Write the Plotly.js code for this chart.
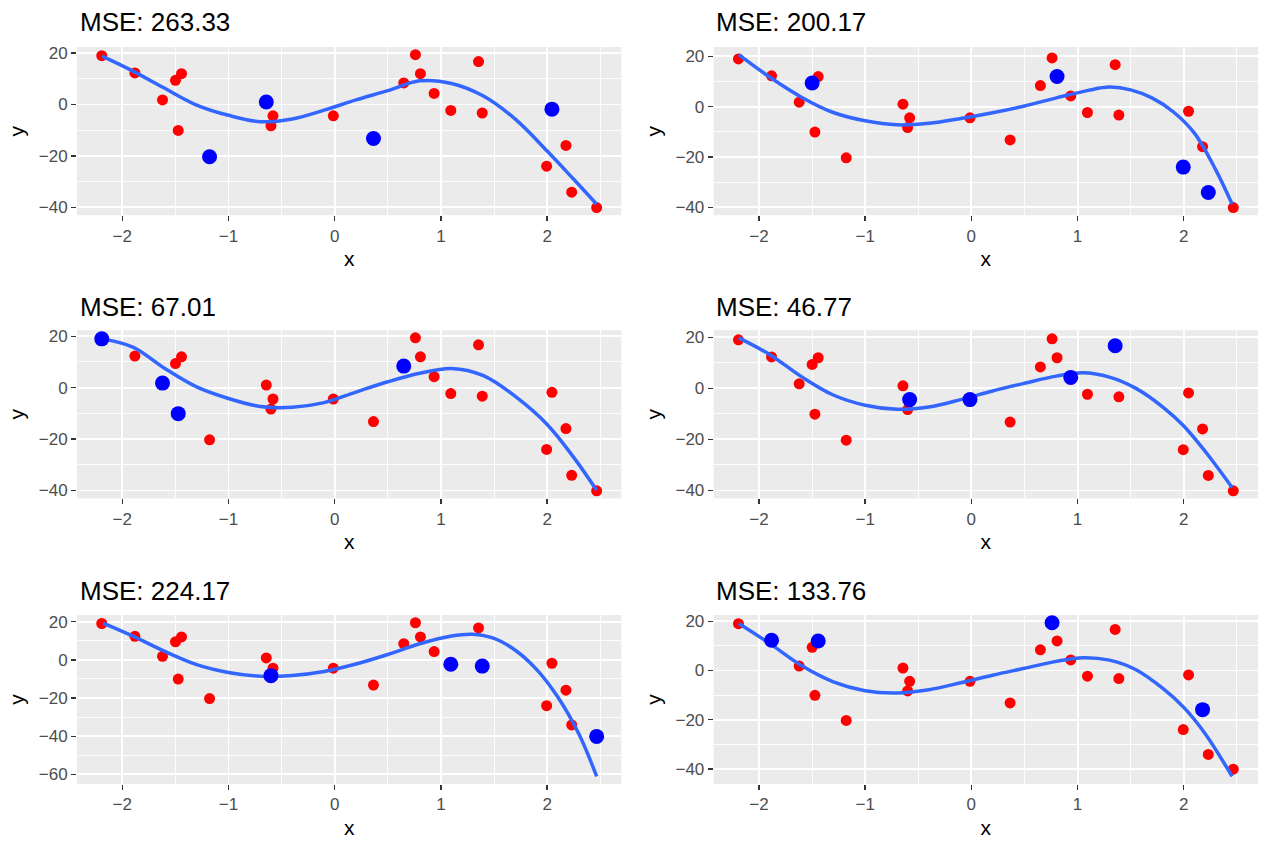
<!DOCTYPE html>
<html>
<head>
<meta charset="utf-8">
<script src="https://cdn.plot.ly/plotly-3.0.1.min.js"></script>
<style>
  html, body { margin: 0; padding: 0; background: #ffffff; }
  #chart { width: 1264px; height: 841px; }
</style>
</head>
<body>
<div id="chart"></div>
<script>
// ---- data ----
const xVals = [-2.193, -1.881, -1.621, -1.499, -1.473, -1.442, -1.178, -0.644, -0.600, -0.581,
               -0.013, 0.365, 0.650, 0.760, 0.807, 0.936, 1.093, 1.354, 1.389, 1.995,
               2.045, 2.177, 2.231, 2.466];
const yVals = [19.0, 12.3, 1.8, 9.4, -10.1, 12.0, -20.3, 1.0, -8.3, -4.4,
               -4.4, -13.2, 8.4, 19.4, 12.0, 4.3, -2.3, 16.7, -3.3, -24.0,
               -1.8, -15.9, -34.1, -40.1];
// panel (1..6) in which each point is a held-out (blue) point
const testFold = [3, 6, 3, 2, 3, 6, 1, 1, 5, 4,
                  4, 1, 3, 6, 2, 4, 5, 4, 5, 2,
                  1, 6, 2, 5];
const panelTitles = ["MSE: 263.33", "MSE: 200.17", "MSE: 67.01", "MSE: 46.77", "MSE: 224.17", "MSE: 133.76"];
const xAxisTitle = "x";
const yAxisTitle = "y";

// fitted curves
const curveX1 = [-2.19, -1.9, -1.6, -1.3, -1.0, -0.7, -0.4, -0.1, 0.2, 0.5, 0.8, 1.1, 1.4, 1.7, 2.0, 2.25, 2.466];
const curveY1 = [18.8, 13.0, 6.3, -0.2, -4.2, -6.7, -5.6, -2.2, 1.8, 5.4, 9.2, 8.2, 3.3, -5.7, -18.1, -29.1, -38.8];
const curveX2 = [-2.19, -1.9, -1.6, -1.3, -1.0, -0.7, -0.4, -0.1, 0.2, 0.5, 0.8, 1.1, 1.3, 1.5, 1.7, 1.9, 2.1, 2.3, 2.455];
const curveY2 = [20.7, 11.8, 3.8, -2.3, -5.6, -7.2, -6.6, -4.7, -2.4, 0.3, 3.5, 6.5, 7.8, 6.7, 3.5, -2.0, -10.5, -25.0, -38.7];
const curveX3 = [-2.18, -1.9, -1.6, -1.3, -1.0, -0.7, -0.4, -0.1, 0.2, 0.5, 0.8, 1.1, 1.4, 1.7, 2.0, 2.25, 2.466];
const curveY3 = [18.9, 15.8, 7.5, 0.3, -4.2, -7.3, -7.6, -5.8, -1.7, 2.3, 5.6, 7.5, 4.7, -3.4, -14.3, -27.1, -39.9];
const curveX4 = [-2.19, -1.9, -1.6, -1.3, -1.0, -0.7, -0.4, -0.1, 0.2, 0.5, 0.8, 1.05, 1.3, 1.55, 1.8, 2.0, 2.21, 2.455];
const curveY4 = [19.8, 13.3, 4.6, -2.6, -6.6, -8.2, -7.3, -4.4, -1.0, 2.0, 4.8, 6.1, 4.4, 0.0, -7.2, -14.7, -25.1, -38.8];
const curveX5 = [-2.18, -1.9, -1.6, -1.3, -1.0, -0.7, -0.4, -0.1, 0.2, 0.5, 0.8, 1.1, 1.3, 1.5, 1.7, 1.9, 2.1, 2.3, 2.466];
const curveY5 = [19.2, 12.4, 4.4, -2.5, -6.6, -8.6, -8.2, -6.1, -2.2, 2.8, 8.4, 12.5, 13.4, 11.2, 5.0, -5.0, -19.5, -39.0, -61.0];
const curveX6 = [-2.19, -1.9, -1.6, -1.3, -1.0, -0.7, -0.4, -0.1, 0.2, 0.5, 0.8, 1.05, 1.3, 1.55, 1.8, 2.0, 2.2, 2.455];
const curveY6 = [19.1, 11.0, 2.0, -4.6, -8.2, -9.1, -7.8, -5.0, -1.9, 0.9, 3.7, 5.2, 4.2, 0.3, -7.2, -15.0, -25.6, -43.0];
const curvesX = [curveX1, curveX2, curveX3, curveX4, curveX5, curveX6];
const curvesY = [curveY1, curveY2, curveY3, curveY4, curveY5, curveY6];

const FONT = "Liberation Sans, Arial, Helvetica, sans-serif";
const W = 1264, H = 841;
const M = { l: 77.3, r: 5.7, t: 46.7, b: 57 };
const PW = W - M.l - M.r, PH = H - M.t - M.b;
const colPx = [[77.3, 621.7], [714, 1258.3]];
const rowPx = [[46.7, 215], [330, 498.3], [615, 784]];
const xd = px => (px - M.l) / PW;
const yd = py => (H - M.b - py) / PH;

const xMin = Math.min(...xVals), xMax = Math.max(...xVals);
const xSpan = xMax - xMin;
const xRange = [xMin - 0.05 * xSpan, xMax + 0.05 * xSpan];

const traces = [];
const layout = {
  width: W, height: H,
  margin: M,
  paper_bgcolor: "#ffffff",
  plot_bgcolor: "#EBEBEB",
  showlegend: false,
  font: { family: FONT, color: "#000000" },
  annotations: []
};

for (let p = 0; p < 6; p++) {
  const fold = p + 1;
  const sfx = p === 0 ? "" : String(p + 1);
  const xa = "x" + sfx, ya = "y" + sfx;
  const trX = [], trY = [], teX = [], teY = [];
  for (let k = 0; k < xVals.length; k++) {
    if (testFold[k] === fold) { teX.push(xVals[k]); teY.push(yVals[k]); }
    else { trX.push(xVals[k]); trY.push(yVals[k]); }
  }
  traces.push({ type: "scatter", mode: "markers", x: trX, y: trY, xaxis: xa, yaxis: ya,
    marker: { color: "#FF0000", size: 11 }, hoverinfo: "x+y" });
  traces.push({ type: "scatter", mode: "lines", x: curvesX[p], y: curvesY[p], xaxis: xa, yaxis: ya,
    line: { color: "#3366FF", width: 3.5, shape: "spline", smoothing: 1 }, hoverinfo: "skip" });
  traces.push({ type: "scatter", mode: "markers", x: teX, y: teY, xaxis: xa, yaxis: ya,
    marker: { color: "#0000FF", size: 15 }, hoverinfo: "x+y" });

  const allY = yVals.concat(curvesY[p]);
  const yLo = Math.min(...allY), yHi = Math.max(...allY);
  const ySpan = yHi - yLo;
  const yRange = [yLo - 0.05 * ySpan, yHi + 0.05 * ySpan];

  const col = p % 2, row = Math.floor(p / 2);
  const common = {
    showline: false, zeroline: false,
    ticks: "outside", ticklen: 5, tickwidth: 1.4, tickcolor: "#333333",
    tickfont: { family: FONT, size: 17, color: "#4D4D4D" },
    showgrid: true, gridcolor: "#FFFFFF", gridwidth: 1.9,
    fixedrange: true
  };
  layout["xaxis" + sfx] = Object.assign({}, common, {
    domain: [xd(colPx[col][0]), xd(colPx[col][1])],
    anchor: ya, range: xRange, dtick: 1, tick0: 0,
    minor: { dtick: 0.5, tick0: 0, showgrid: true, gridcolor: "#FFFFFF", gridwidth: 0.9, ticks: "" },
    title: { text: xAxisTitle, font: { family: FONT, size: 21, color: "#000000" }, standoff: 6 }
  });
  layout["yaxis" + sfx] = Object.assign({}, common, {
    domain: [yd(rowPx[row][1]), yd(rowPx[row][0])],
    anchor: xa, range: yRange, dtick: 20, tick0: 0,
    minor: { dtick: 10, tick0: 0, showgrid: true, gridcolor: "#FFFFFF", gridwidth: 0.9, ticks: "" },
    title: { text: yAxisTitle, font: { family: FONT, size: 21, color: "#000000" }, standoff: 8 }
  });
  const titleMid = [21.5, 306.5, 591.2][row];
  layout.annotations.push({
    text: panelTitles[p], xref: "paper", yref: "paper",
    x: xd(colPx[col][0] + 0.5), xanchor: "left",
    y: yd(titleMid), yanchor: "middle",
    showarrow: false, font: { family: FONT, size: 26, color: "#000000" }
  });
}

Plotly.newPlot("chart", traces, layout, { displayModeBar: false, staticPlot: true });
</script>
</body>
</html>
